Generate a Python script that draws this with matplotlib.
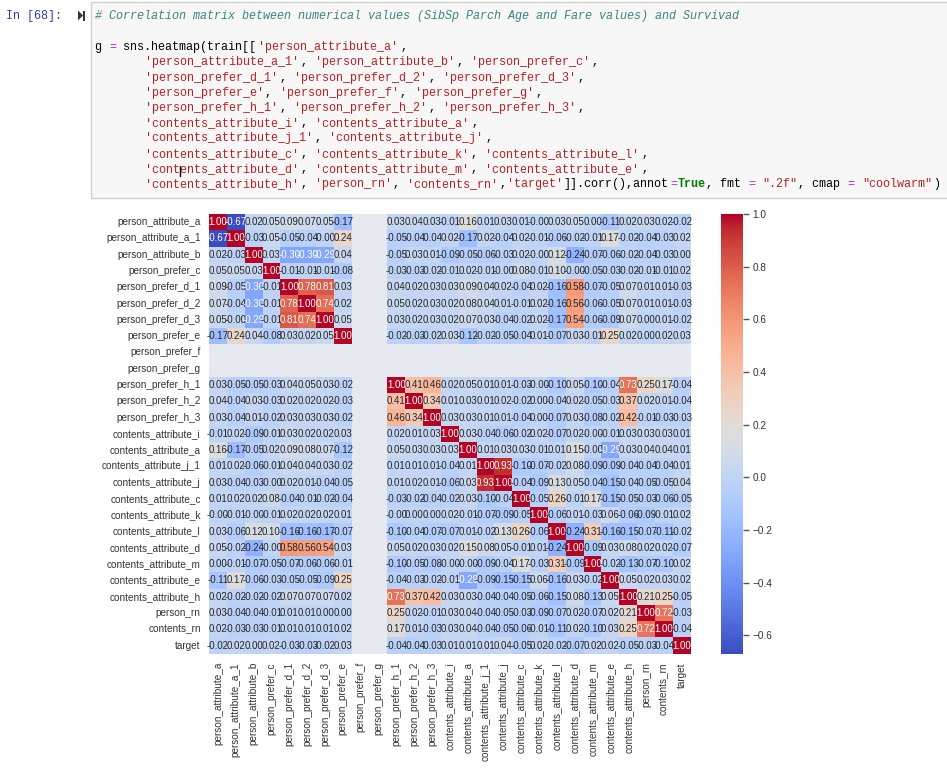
import numpy as np
import matplotlib
matplotlib.use('Agg')
import matplotlib.pyplot as plt
from matplotlib.patches import Rectangle
import pandas as pd
import seaborn as sns

nan = np.nan

# column names, same order as the notebook cell
labels = ['person_attribute_a', 'person_attribute_a_1', 'person_attribute_b', 'person_prefer_c',
          'person_prefer_d_1', 'person_prefer_d_2', 'person_prefer_d_3',
          'person_prefer_e', 'person_prefer_f', 'person_prefer_g',
          'person_prefer_h_1', 'person_prefer_h_2', 'person_prefer_h_3',
          'contents_attribute_i', 'contents_attribute_a',
          'contents_attribute_j_1', 'contents_attribute_j',
          'contents_attribute_c', 'contents_attribute_k', 'contents_attribute_l',
          'contents_attribute_d', 'contents_attribute_m', 'contents_attribute_e',
          'contents_attribute_h', 'person_rn', 'contents_rn', 'target']

# correlation values
pa_a = [1.00, -.67, .02, .05, .09, .07, .05, -.17, nan, nan, .03, .04, .03, -.01, .16, .01, .03, .01, -.00, .03, .05, .00, -.11, .02, .03, .02, -.02]
pa_a1 = [-.67, 1.00, -.03, .05, -.05, -.04, -.00, .24, nan, nan, -.05, -.04, -.04, .02, -.17, .02, -.04, .02, -.01, -.06, -.02, -.01, .17, -.02, -.04, -.03, .02]
pa_b = [.02, -.03, 1.00, .03, -.30, -.30, -.29, .04, nan, nan, -.05, .03, .01, -.09, -.05, -.06, -.03, .02, -.00, .12, -.24, -.07, -.06, -.02, -.04, -.03, .00]
pp_c = [.05, .05, .03, 1.00, -.01, -.01, -.01, -.08, nan, nan, -.03, -.03, -.02, -.01, .02, -.01, -.00, .08, -.01, .10, -.00, -.05, -.03, -.02, -.01, -.01, .02]
pp_d1 = [.09, -.05, -.30, -.01, 1.00, .78, .81, .03, nan, nan, .04, .02, .03, .03, .09, .04, .02, -.04, .02, -.16, .58, -.07, -.05, .07, .01, .01, -.03]
pp_d2 = [.07, -.04, -.30, -.01, .78, 1.00, .74, .02, nan, nan, .05, .02, .03, .02, .08, .04, .01, -.01, .02, -.16, .56, -.06, -.05, .07, .01, .01, -.03]
pp_d3 = [.05, -.00, -.29, -.01, .81, .74, 1.00, .05, nan, nan, .03, .02, .03, .02, .07, .03, -.04, -.02, .02, -.17, .54, -.06, -.09, .07, .00, .01, -.02]
pp_e = [-.17, .24, .04, -.08, .03, .02, .05, 1.00, nan, nan, -.02, -.03, -.02, .03, -.12, -.02, -.05, -.04, .01, -.07, .03, -.01, .25, .02, .00, .02, .03]
pp_f = [nan] * 27
pp_g = [nan] * 27
pp_h1 = [.03, -.05, -.05, -.03, .04, .05, .03, -.02, nan, nan, 1.00, .41, .46, .02, .05, .01, .01, -.03, -.00, -.10, .05, -.10, -.04, .73, .25, .17, -.04]
pp_h2 = [.04, -.04, .03, -.03, .02, .02, .02, -.03, nan, nan, .41, 1.00, .34, .01, .03, .01, .02, -.02, .00, -.04, .02, -.05, -.03, .37, .02, .01, -.04]
pp_h3 = [.03, -.04, .01, -.02, .03, .03, .03, -.02, nan, nan, .46, .34, 1.00, .03, .03, .01, .01, -.04, .00, -.07, .03, -.08, -.02, .42, -.01, -.03, -.03]
ca_i = [-.01, .02, -.09, -.01, .03, .02, .02, .03, nan, nan, .02, .01, .03, 1.00, .03, -.04, -.06, -.02, .02, -.07, .02, -.00, -.01, .03, .03, .03, .01]
ca_a = [.16, -.17, -.05, .02, .09, .08, .07, -.12, nan, nan, .05, .03, .03, .03, 1.00, .01, .03, .03, -.01, .01, .15, -.00, -.29, .03, .04, .04, .01]
ca_j1 = [.01, .02, -.06, -.01, .04, .04, .03, -.02, nan, nan, .01, .01, .01, -.04, .01, 1.00, .93, -.10, -.07, -.02, .08, -.09, -.09, -.04, -.04, -.04, .01]
ca_j = [.03, -.04, -.03, -.00, .02, .01, -.04, -.05, nan, nan, .01, .02, .01, -.06, .03, .93, 1.00, -.04, -.09, .13, .05, -.04, -.15, -.04, -.05, -.05, .04]
ca_c = [.01, .02, .02, .08, -.04, -.01, -.02, -.04, nan, nan, -.03, -.02, -.04, -.02, .03, -.10, -.04, 1.00, -.05, .26, -.01, .17, -.15, -.05, -.03, -.06, -.05]
ca_k = [-.00, -.01, -.00, -.01, .02, .02, .02, .01, nan, nan, -.00, .00, .00, .02, -.01, -.07, -.09, -.05, 1.00, -.06, .01, -.03, .06, -.06, -.09, -.01, .02]
ca_l = [.03, -.06, .12, .10, -.16, -.16, -.17, -.07, nan, nan, -.10, -.04, -.07, -.07, .01, -.02, .13, .26, -.06, 1.00, -.24, .31, -.16, -.15, -.07, -.11, -.02]
ca_d = [.05, -.02, -.24, -.00, .58, .56, .54, .03, nan, nan, .05, .02, .03, .02, .15, .08, .05, -.01, .01, -.24, 1.00, -.09, .03, .08, .02, .02, -.07]
ca_m = [.00, -.01, -.07, -.05, -.07, -.06, -.06, -.01, nan, nan, -.10, -.05, -.08, -.00, -.00, -.09, -.04, .17, -.03, .31, -.09, 1.00, -.02, -.13, -.07, -.10, .02]
ca_e = [-.11, .17, -.06, -.03, -.05, -.05, -.09, .25, nan, nan, -.04, -.03, -.02, -.01, -.29, -.09, -.15, -.15, .06, -.16, .03, -.02, 1.00, .05, .02, .03, .02]
ca_h = [.02, -.02, -.02, -.02, .07, .07, .07, .02, nan, nan, .73, .37, .42, .03, .03, -.04, -.04, -.05, -.06, -.15, .08, -.13, .05, 1.00, .21, .25, -.05]
p_rn = [.03, -.04, -.04, -.01, .01, .01, .00, .00, nan, nan, .25, .02, -.01, .03, .04, -.04, -.05, -.03, -.09, -.07, .02, -.07, .02, .21, 1.00, .72, -.03]
c_rn = [.02, -.03, -.03, -.01, .01, .01, .01, .02, nan, nan, .17, .01, -.03, .03, .04, -.04, -.05, -.06, -.01, -.11, .02, -.10, .03, .25, .72, 1.00, -.04]
target = [-.02, .02, .00, .02, -.03, -.03, -.02, .03, nan, nan, -.04, -.04, -.03, .01, .01, .01, .04, -.05, .02, -.02, -.07, .02, .02, -.05, -.03, -.04, 1.00]

corr = pd.DataFrame([pa_a, pa_a1, pa_b, pp_c, pp_d1, pp_d2, pp_d3, pp_e, pp_f, pp_g,
                     pp_h1, pp_h2, pp_h3, ca_i, ca_a, ca_j1, ca_j, ca_c, ca_k, ca_l,
                     ca_d, ca_m, ca_e, ca_h, p_rn, c_rn, target],
                    index=labels, columns=labels)

# notebook cell source: (text, kind) runs per line
BLK, STR, OP, KW, CMT = '#000000', '#ba2121', '#aa22ff', '#008000', '#408080'
code_lines = [
    (0, 15.7, [("# Correlation matrix between numerical values (SibSp Parch Age and Fare values) and Survivad", CMT)]),
    (0, 46.7, [("g ", BLK), ("=", OP), (" sns.heatmap(train[[", BLK), ("'person_attribute_a'", STR), (",", BLK)]),
    (7, 62.0, [("'person_attribute_a_1'", STR), (", ", BLK), ("'person_attribute_b'", STR), (", ", BLK), ("'person_prefer_c'", STR), (",", BLK)]),
    (7, 77.6, [("'person_prefer_d_1'", STR), (", ", BLK), ("'person_prefer_d_2'", STR), (", ", BLK), ("'person_prefer_d_3'", STR), (",", BLK)]),
    (7, 93.0, [("'person_prefer_e'", STR), (", ", BLK), ("'person_prefer_f'", STR), (", ", BLK), ("'person_prefer_g'", STR), (",", BLK)]),
    (7, 108.3, [("'person_prefer_h_1'", STR), (", ", BLK), ("'person_prefer_h_2'", STR), (", ", BLK), ("'person_prefer_h_3'", STR), (",", BLK)]),
    (7, 123.0, [("'contents_attribute_i'", STR), (", ", BLK), ("'contents_attribute_a'", STR), (",", BLK)]),
    (7, 138.3, [("'contents_attribute_j_1'", STR), (", ", BLK), ("'contents_attribute_j'", STR), (",", BLK)]),
    (7, 153.7, [("'contents_attribute_c'", STR), (", ", BLK), ("'contents_attribute_k'", STR), (", ", BLK), ("'contents_attribute_l'", STR), (",", BLK)]),
    (7, 169.0, [("'contents_attribute_d'", STR), (", ", BLK), ("'contents_attribute_m'", STR), (", ", BLK), ("'contents_attribute_e'", STR), (",", BLK)]),
    (7, 184.3, [("'contents_attribute_h'", STR), (", ", BLK), ("'person_rn'", STR), (", ", BLK), ("'contents_rn'", STR), (",", BLK), ("'target'", STR),
                ("]].corr(),annot", BLK), ("=", OP), ("True", KW), (", fmt ", BLK), ("=", OP), (" ", BLK), ('".2f"', STR), (", cmap ", BLK), ("=", OP), (" ", BLK), ('"coolwarm"', STR), (")", BLK)]),
]

W, H = 947, 769

sns.set()
plt.rcParams['font.family'] = ['Liberation Sans', 'DejaVu Sans']

fig = plt.figure(figsize=(W / 100, H / 100), dpi=100)

# overlay in image pixel coordinates for the notebook chrome
bg = fig.add_axes([0, 0, 1, 1])
bg.set_xlim(0, W)
bg.set_ylim(H, 0)
bg.axis('off')

bg.add_patch(Rectangle((91, 2), 860, 196, facecolor='#f7f7f7', edgecolor='#cfcfcf', linewidth=1))
bg.text(6, 15.7, 'In [68]:', color='#303f9f', family='Liberation Mono', fontsize=8.5, va='center')
bg.fill([78, 78, 83], [10.5, 20.5, 15.5], color='#333333', linewidth=0)
bg.add_patch(Rectangle((83, 10.5), 2, 10, facecolor='#333333', edgecolor='none'))

char_w = 7.1
x0 = 95
for indent, y, runs in code_lines:
    col = indent
    for text, color in runs:
        style = 'italic' if color == CMT else 'normal'
        weight = 'bold' if color == KW else 'normal'
        bg.text(x0 + col * char_w, y, text, color=color, family='Liberation Mono',
                fontsize=8.5, style=style, weight=weight, va='center')
        col += len(text)
bg.plot([180, 180], [165.5, 175.5], color='#000000', linewidth=1)

# heatmap and colorbar, placed by hand to match the screenshot
ax = fig.add_axes([209 / W, 1 - 653.7 / H, (690.7 - 209) / W, (653.7 - 214) / H])
cax = fig.add_axes([721.3 / W, 1 - 653.7 / H, (742.7 - 721.3) / W, (653.7 - 214) / H])

g = sns.heatmap(corr, annot=True, fmt='.2f', cmap='coolwarm', ax=ax, cbar_ax=cax,
                annot_kws={'fontsize': 7})

ax.grid(False)
ax.set_facecolor('#e7e9f1')
ax.tick_params(axis='both', labelsize=7.2, length=0, pad=6, colors='#333333')
ax.set_xticklabels(labels, rotation=90)
ax.set_yticklabels(labels, rotation=0)

cax.set_yticks(np.arange(-0.6, 1.01, 0.2))
cax.tick_params(labelsize=7.2, length=4, width=1, color='#555555', labelcolor='#333333', pad=3)

fig.savefig('out.png', dpi=100)
